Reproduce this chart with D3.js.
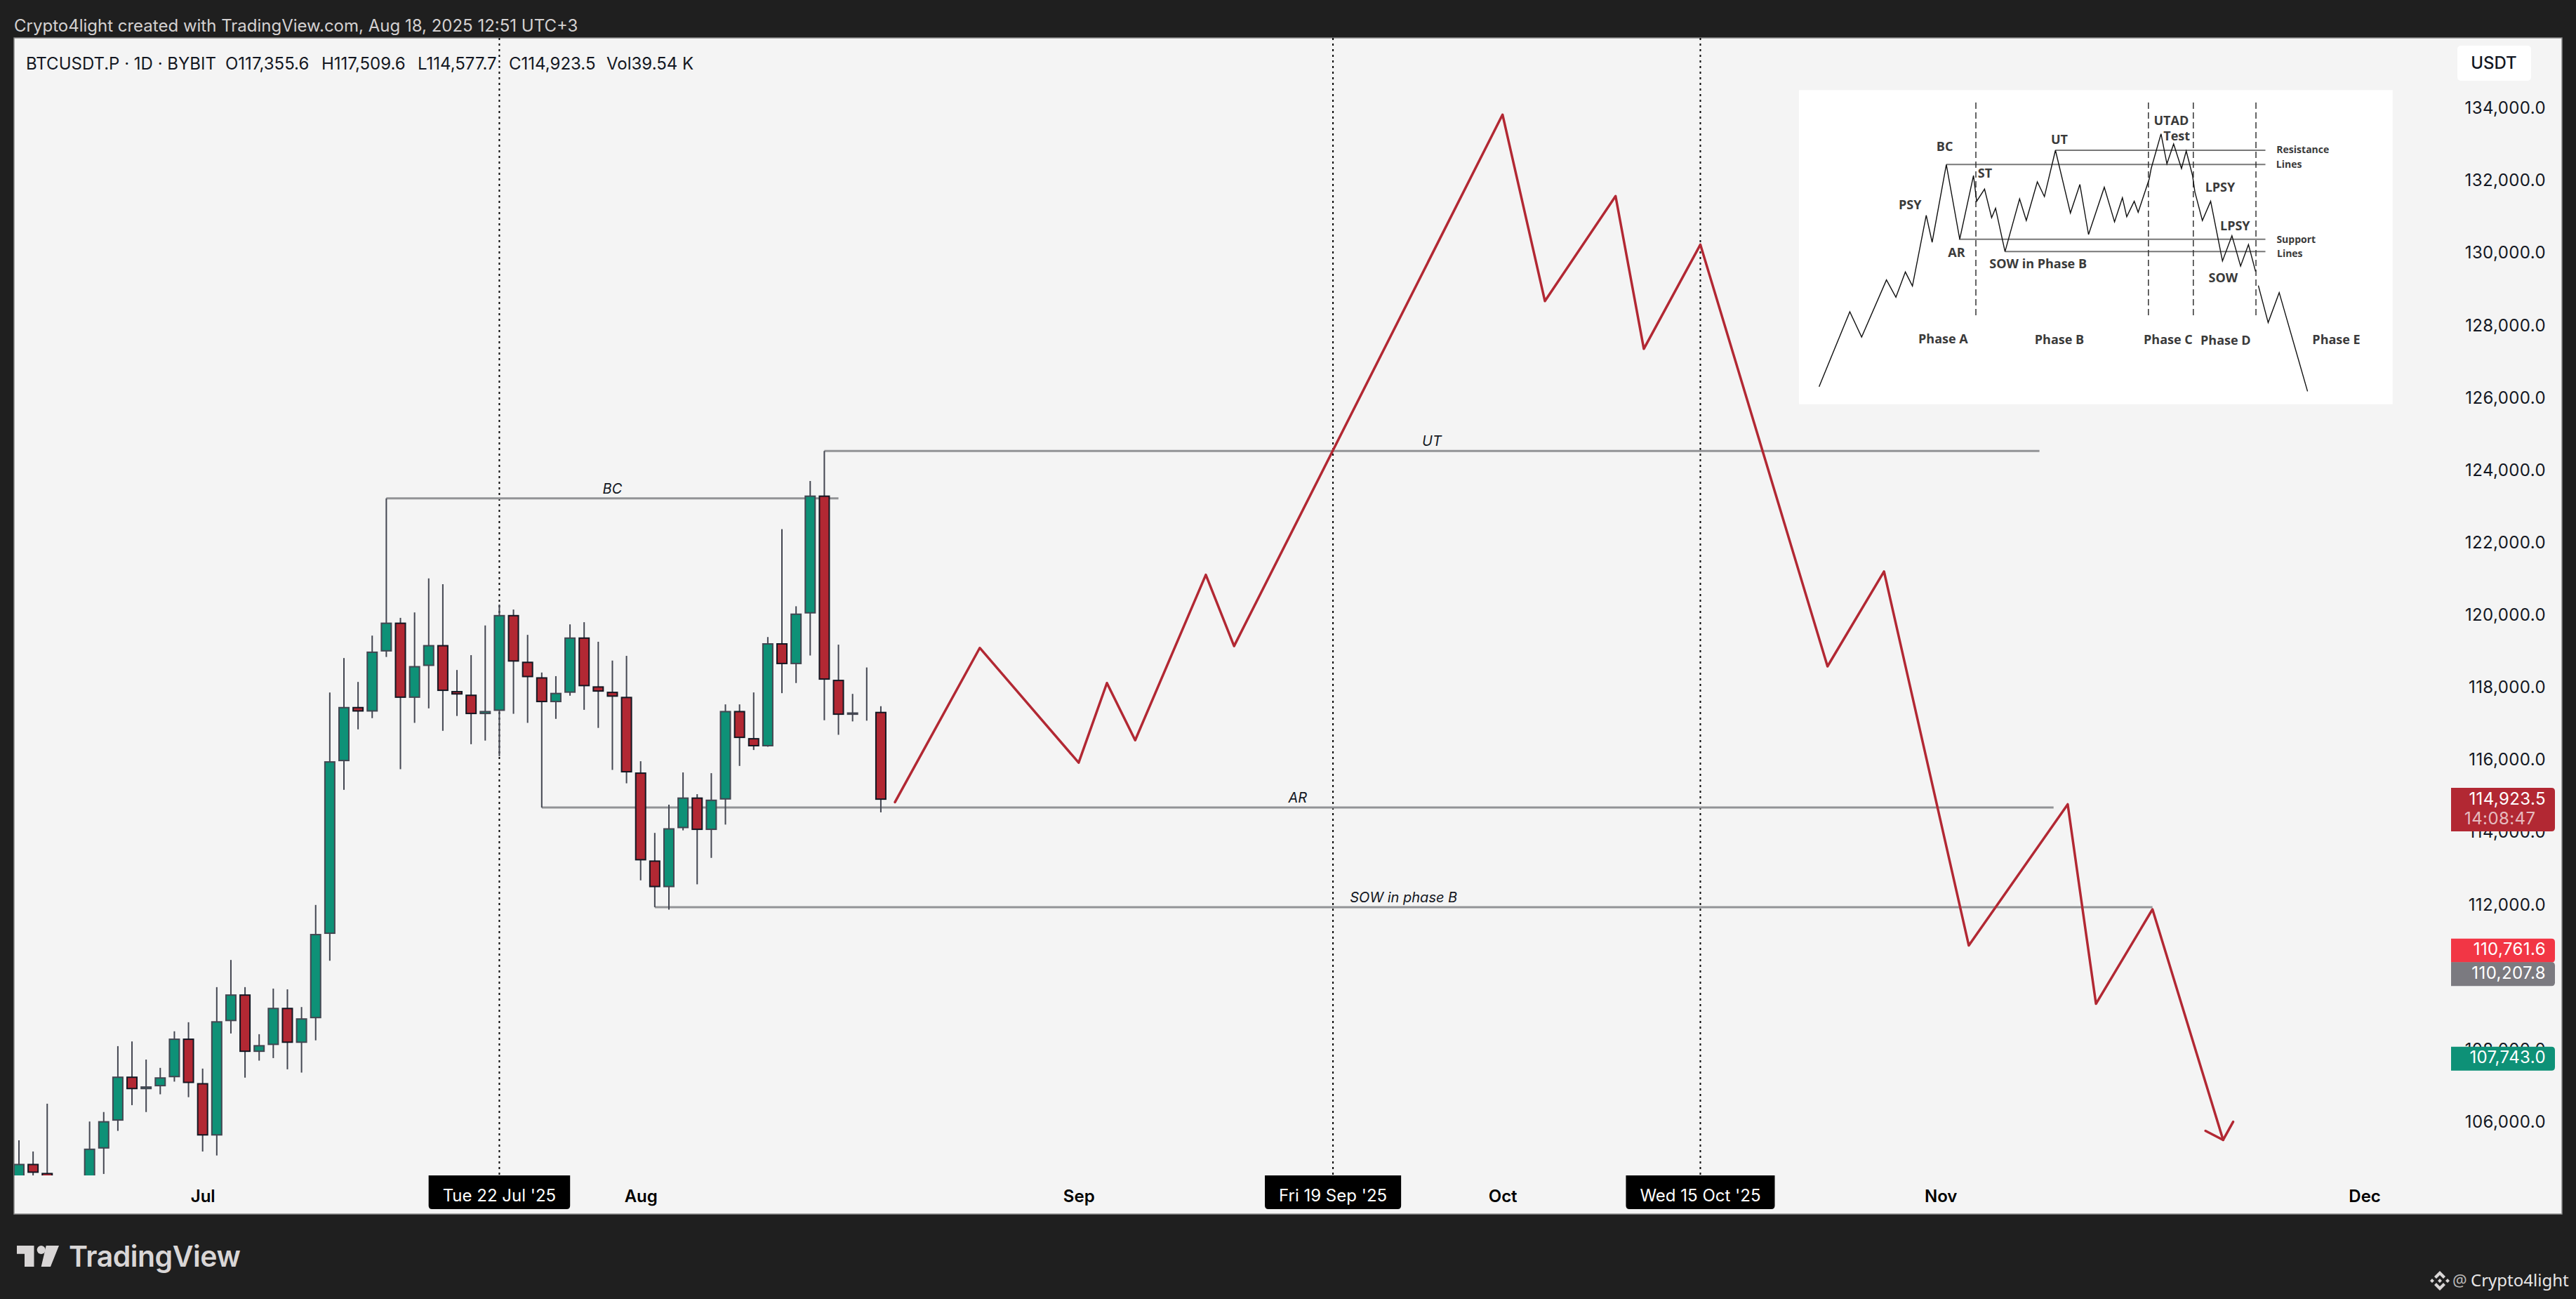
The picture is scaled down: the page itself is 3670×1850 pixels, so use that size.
<!DOCTYPE html>
<html>
<head>
<meta charset="utf-8">
<style>
  html, body { margin: 0; padding: 0; background: #1f1f1f; }
  svg { display: block; font-family: Inter, "Noto Sans", sans-serif; }
  .axis path, .axis line { display: none; }
  .price-axis text { font-size: 24px; fill: #131722; font-family: Inter, sans-serif; letter-spacing: 0.4px; }
  .time-axis text { font-size: 24px; font-weight: 600; fill: #000; font-family: Inter, sans-serif; }
  .inset-label { font-family: "Open Sans", sans-serif; font-weight: 700; fill: #3a3a3a; text-anchor: middle; }
</style>
<script src="https://cdn.jsdelivr.net/npm/d3@7"></script>
</head>
<body>
<script>
// daily candles, first one is 18 Jun 2025 (the ones around 21-22 Jun sit below the visible pane)
var firstDay = "2025-06-18";
var opens = [104300,104870,104620,103300,102100,100950,105290,106060,107280,106930,107010,107260,108330,107100,105650,108810,109550,107960,108150,109180,108210,108890,111220,115990,117490,117360,119020,119820,117740,118620,119200,117930,117830,117290,117380,120030,118740,118310,117620,117880,119410,118060,117910,117770,115680,113250,112510,114140,114990,114090,114930,117380,116630,116400,119250,118670,120070,123330,118240,117270,117350,117355.6];
var highs = [105520,105210,106530,104000,103300,106040,106300,108120,108250,107750,107520,108530,108780,107500,109750,110500,109750,108450,109710,109690,109200,112020,117890,118840,118180,119460,123250,119950,120100,121040,120880,118510,118920,119740,120320,120180,119480,118440,118340,119770,119830,119290,118770,118900,115990,114010,114790,115680,115080,115660,117560,117560,117890,119420,122400,120270,123730,124560,119210,117850,118580,117509.6];
var lows = [103800,104000,102800,100900,98300,100400,104590,105780,106490,106300,106790,107140,106710,105210,105100,108470,107250,107720,107790,107480,107390,108280,110480,115200,116870,117180,118870,115770,117050,117450,116830,117240,116460,116560,116130,117300,117050,114710,117160,117800,117410,116910,115750,115380,112700,111960,111890,114080,112590,113320,114240,115860,116300,116390,117870,118150,118910,117120,116720,117090,117110,114577.7];
var closes = [104870,104620,103300,102100,100950,105290,106050,107280,106930,107010,107260,108330,107100,105650,108810,109550,107960,108150,109180,108210,108890,111220,115990,117490,117360,119020,119820,117740,118620,119200,117930,117830,117290,117380,120030,118740,118310,117620,117880,119410,118060,117910,117770,115680,113250,112510,114140,114990,114090,114930,117380,116630,116400,119250,118670,120070,123330,118240,117270,117340,117355,114923.5];

// hand drawn projection
var projDates = ["2025-08-19","2025-08-25","2025-09-01","2025-09-03","2025-09-05","2025-09-10","2025-09-12","2025-10-01","2025-10-04","2025-10-09","2025-10-11","2025-10-15","2025-10-24","2025-10-28","2025-11-03","2025-11-10","2025-11-12","2025-11-16","2025-11-21"];
var projPrices = [114860,119120,115950,118150,116570,121140,119170,133850,128700,131600,127380,130260,118610,121230,110900,114800,109290,111900,105530];
var arrowDates = ["2025-11-19T18:00Z","2025-11-21T00:00Z","2025-11-21T17:00Z"];
var arrowPrices = [105780,105530,106030];

// horizontal levels
var levelNames = ["BC","UT","AR","SOW in phase B"];
var levelPrices = [123250,124560,114710,111960];
var levelStarts = ["2025-07-14","2025-08-14","2025-07-25","2025-08-02"];
var levelEnds = ["2025-08-15","2025-11-08","2025-11-09","2025-11-16"];

// crosshair dates
var markDates = ["2025-07-22","2025-09-19","2025-10-15"];
var markLabels = ["Tue 22 Jul '25","Fri 19 Sep '25","Wed 15 Oct '25"];

var priceTicks = [106000,108000,110000,112000,114000,116000,118000,120000,122000,124000,126000,128000,130000,132000,134000];
var monthTicks = ["2025-07-01","2025-08-01","2025-09-01","2025-10-01","2025-11-01","2025-12-01"];

// price tags on the right axis
var tagPrices = [114923.5,110761.6,110207.8,107743.0];
var tagColors = ["#b22833","#f23645","#7b7a80","#0e9177"];
var tagShift = [0,0,5,-1.5];

var legendTexts = ["BTCUSDT.P · 1D · BYBIT","O117,355.6","H117,509.6","L114,577.7","C114,923.5","Vol39.54 K"];
var legendX = [37,321,458,595,725,864];

// wyckoff schematic in the corner, values in its own picture units
var wyX = [92,170,200,263,287,311,329,364,379,415,449,484,492,512,530,540,564,601,618,646,664,692,730,754,776,816,842,862,873,892,902,930,935,960,975,992,1012,1024,1040,1046,1065,1086,1116,1140,1162,1182,1200,null,1207,1232,1260,1332];
var wyY = [1322,1002,1110,866,940,832,892,590,705,373,692,420,530,478,600,560,745,520,612,447,510,312,580,458,672,470,618,515,596,530,577,435,390,242,370,285,390,315,420,490,612,530,785,677,807,715,830,null,890,1048,920,1342];
var wyHLineY = [312,373,692,745];
var wyHLineX = [692,415,447,564];
var wyDashX = [490,928,1042,1201];
var wyLabels = ["PSY","BC","ST","AR","UT","SOW in Phase B","UTAD","Test","LPSY","LPSY","SOW","Phase A","Phase B","Phase C","Phase D","Phase E"];
var wyLabelX = [323,411,513,441,702,648,986,1000,1110,1148,1118,407,702,978,1124,1405];
var wyLabelY = [547,298,410,750,267,797,187,252,472,635,857,1118,1122,1122,1124,1122];
var wySideLabels = ["Resistance","Lines","Support","Lines"];
var wySideX = [1320,1285,1303,1287];
var wySideY = [310,372,692,753];

var parseDay = d3.utcParse("%Y-%m-%d");
var green = "#0e9177", red = "#b22833", borderDark = "#131722", borderGray = "#434651";

var width = 3670, height = 1850;
var pane = {left: 20, top: 54, right: 3650, bottom: 1674, frameBottom: 1729};

var x = d3.scaleUtc()
    .domain([parseDay("2025-06-18"), parseDay("2025-12-01")])
    .range([27, 27 + 166 * 20.13]);
var y = d3.scaleLinear()
    .domain([106000, 134000])
    .range([1599.2, 155.5]);

var svg = d3.select("body").append("svg")
    .attr("width", width)
    .attr("height", height);

svg.append("rect").attr("width", width).attr("height", height).attr("fill", "#1f1f1f");
svg.append("rect")
    .attr("x", pane.left).attr("y", pane.top)
    .attr("width", pane.right - pane.left).attr("height", pane.frameBottom - pane.top)
    .attr("fill", "#f4f4f4")
    .attr("stroke", "#8a8a8a")
    .attr("stroke-width", 1.5);

svg.append("clipPath").attr("id", "pane-clip").append("rect")
    .attr("x", pane.left).attr("y", pane.top)
    .attr("width", pane.right - pane.left).attr("height", pane.bottom - pane.top);

// header
svg.append("text")
    .attr("x", 20).attr("y", 45)
    .attr("font-size", 24).attr("fill", "#d4d1d1")
    .text("Crypto4light created with TradingView.com, Aug 18, 2025 12:51 UTC+3");

var plot = svg.append("g").attr("clip-path", "url(#pane-clip)");

// dotted crosshair lines
plot.selectAll(".mark")
    .data(markDates)
  .enter().append("line")
    .attr("class", "mark")
    .attr("x1", function(d) { return x(parseDay(d)); })
    .attr("x2", function(d) { return x(parseDay(d)); })
    .attr("y1", pane.top).attr("y2", pane.bottom)
    .attr("stroke", "#000")
    .attr("stroke-width", 2)
    .attr("stroke-dasharray", "3 5");

// levels
var levels = levelNames.map(function(name, i) {
  return {name: name, price: levelPrices[i], start: parseDay(levelStarts[i]), end: parseDay(levelEnds[i])};
});
plot.selectAll(".level")
    .data(levels)
  .enter().append("line")
    .attr("class", "level")
    .attr("x1", function(d) { return x(d.start); })
    .attr("x2", function(d) { return x(d.end); })
    .attr("y1", function(d) { return y(d.price); })
    .attr("y2", function(d) { return y(d.price); })
    .attr("stroke", "#929396")
    .attr("stroke-width", 3);
plot.selectAll(".level-label")
    .data(levels)
  .enter().append("text")
    .attr("class", "level-label")
    .attr("x", function(d) { return (x(d.start) + x(d.end)) / 2; })
    .attr("y", function(d) { return y(d.price) - 7; })
    .attr("text-anchor", "middle")
    .attr("font-size", 20)
    .attr("font-style", "italic")
    .attr("fill", "#131722")
    .text(function(d) { return d.name; });

// candles
var candles = opens.map(function(o, i) {
  return {date: d3.utcDay.offset(parseDay(firstDay), i), o: o, h: highs[i], l: lows[i], c: closes[i]};
});
var candle = plot.selectAll(".candle")
    .data(candles)
  .enter().append("g")
    .attr("class", "candle");
candle.append("line")
    .attr("x1", function(d) { return x(d.date); })
    .attr("x2", function(d) { return x(d.date); })
    .attr("y1", function(d) { return y(d.h); })
    .attr("y2", function(d) { return y(d.l); })
    .attr("stroke", borderGray)
    .attr("stroke-width", 2);
candle.append("rect")
    .attr("x", function(d) { return x(d.date) - 7; })
    .attr("width", 14)
    .attr("y", function(d) {
      var h = y(Math.min(d.o, d.c)) - y(Math.max(d.o, d.c));
      return y(Math.max(d.o, d.c)) + (h > 2 ? 1 : h / 2);
    })
    .attr("height", function(d) {
      return Math.max(0, y(Math.min(d.o, d.c)) - y(Math.max(d.o, d.c)) - 2);
    })
    .attr("fill", function(d) { return d.c >= d.o ? green : red; })
    .attr("stroke", function(d) { return d.c >= d.o ? borderGray : borderDark; })
    .attr("stroke-width", function(d) {
      return Math.max(1, Math.min(2, y(Math.min(d.o, d.c)) - y(Math.max(d.o, d.c))));
    });

// projection path
var projLine = d3.line()
    .x(function(d) { return x(d.date); })
    .y(function(d) { return y(d.price); });
var parseArrow = d3.isoParse;
function zipDates(dates, prices, parse) {
  return dates.map(function(d, i) { return {date: parse(d), price: prices[i]}; });
}
plot.append("path")
    .datum(zipDates(projDates, projPrices, parseDay))
    .attr("d", projLine)
    .attr("fill", "none").attr("stroke", red).attr("stroke-width", 3.5)
    .attr("stroke-linejoin", "round").attr("stroke-linecap", "round");
plot.append("path")
    .datum(zipDates(arrowDates, arrowPrices, parseArrow))
    .attr("d", projLine)
    .attr("fill", "none").attr("stroke", red).attr("stroke-width", 3.5)
    .attr("stroke-linejoin", "round").attr("stroke-linecap", "round");

// legend top left
svg.selectAll(".legend")
    .data(legendTexts)
  .enter().append("text")
    .attr("class", "legend")
    .attr("x", function(d, i) { return legendX[i]; })
    .attr("y", 99)
    .attr("font-size", 24)
    .attr("fill", "#131722")
    .text(function(d) { return d; });

// wyckoff inset
var wx = d3.scaleLinear().domain([0, 1568]).range([2540, 3420]);
var wy = d3.scaleLinear().domain([0, 1440]).range([110, 590]);
var inset = svg.append("g");
inset.append("rect")
    .attr("x", wx(41)).attr("y", wy(55))
    .attr("width", wx(1548) - wx(41)).attr("height", wy(1397) - wy(55))
    .attr("fill", "#fff");
inset.selectAll(".wy-h")
    .data(wyHLineY)
  .enter().append("line")
    .attr("x1", function(d, i) { return wx(wyHLineX[i]); })
    .attr("x2", wx(1225))
    .attr("y1", function(d) { return wy(d); })
    .attr("y2", function(d) { return wy(d); })
    .attr("stroke", "#777").attr("stroke-width", 2);
inset.selectAll(".wy-dash")
    .data(wyDashX)
  .enter().append("line")
    .attr("x1", function(d) { return wx(d); })
    .attr("x2", function(d) { return wx(d); })
    .attr("y1", wy(108)).attr("y2", wy(1025))
    .attr("stroke", "#333").attr("stroke-width", 1.5)
    .attr("stroke-dasharray", "9 5");
inset.append("path")
    .datum(wyX.map(function(d, i) { return [d, wyY[i]]; }))
    .attr("d", d3.line()
        .defined(function(d) { return d[0] !== null; })
        .x(function(d) { return wx(d[0]); })
        .y(function(d) { return wy(d[1]); }))
    .attr("fill", "none").attr("stroke", "#111").attr("stroke-width", 1.4);
inset.selectAll(".wy-label")
    .data(wyLabels)
  .enter().append("text")
    .attr("class", "inset-label")
    .attr("x", function(d, i) { return wx(wyLabelX[i]); })
    .attr("y", function(d, i) { return wy(wyLabelY[i]) + 6; })
    .attr("font-size", 18)
    .text(function(d) { return d; });
inset.selectAll(".wy-side")
    .data(wySideLabels)
  .enter().append("text")
    .attr("class", "inset-label")
    .attr("x", function(d, i) { return wx(wySideX[i]); })
    .attr("y", function(d, i) { return wy(wySideY[i]) + 5; })
    .attr("font-size", 14)
    .text(function(d) { return d; });

// axes
svg.append("g")
    .attr("class", "axis price-axis")
    .attr("transform", "translate(3627,-1.5)")
    .call(d3.axisRight(y).tickValues(priceTicks).tickSize(0).tickPadding(0).tickFormat(d3.format(",.1f")))
    .selectAll("text").attr("text-anchor", "end");

svg.append("g")
    .attr("class", "axis time-axis")
    .attr("transform", "translate(0,1694.7)")
    .call(d3.axisBottom(x).tickValues(monthTicks.map(parseDay)).tickSize(0).tickPadding(0).tickFormat(d3.utcFormat("%b")));

// USDT button
svg.append("rect")
    .attr("x", 3501).attr("y", 65).attr("width", 105).attr("height", 50).attr("rx", 5)
    .attr("fill", "#fff");
svg.append("text")
    .attr("x", 3553).attr("y", 98)
    .attr("text-anchor", "middle").attr("font-size", 24).attr("font-weight", 500).attr("fill", "#131722")
    .text("USDT");

// rounded only on the right or only on the bottom
function tagPath(x0, y0, w, h, r) {
  return "M" + x0 + "," + y0 + "H" + (x0 + w - r) + "Q" + (x0 + w) + "," + y0 + " " + (x0 + w) + "," + (y0 + r) +
      "V" + (y0 + h - r) + "Q" + (x0 + w) + "," + (y0 + h) + " " + (x0 + w - r) + "," + (y0 + h) + "H" + x0 + "Z";
}
function tipPath(x0, y0, w, h, r) {
  return "M" + x0 + "," + y0 + "H" + (x0 + w) + "V" + (y0 + h - r) + "Q" + (x0 + w) + "," + (y0 + h) + " " + (x0 + w - r) + "," + (y0 + h) +
      "H" + (x0 + r) + "Q" + x0 + "," + (y0 + h) + " " + x0 + "," + (y0 + h - r) + "Z";
}

// price tags
tagPrices.forEach(function(p, i) {
  var cy = y(p) + tagShift[i];
  var top = cy - 17;
  var tagH = i === 0 ? 62 : 34;
  svg.append("path").attr("d", tagPath(3492, top, 148, tagH, 5)).attr("fill", tagColors[i]);
  svg.append("text")
      .attr("x", 3627).attr("y", top + 23.5)
      .attr("text-anchor", "end").attr("font-size", 24).attr("fill", "#fff").attr("letter-spacing", 0.4)
      .text(d3.format(",.1f")(p));
  if (i === 0) {
    svg.append("text")
        .attr("x", 3511).attr("y", top + 52)
        .attr("font-size", 24).attr("fill", "#fff").attr("fill-opacity", 0.7).attr("letter-spacing", 0.4)
        .text("14:08:47");
  }
});

// date tooltips under the crosshair lines
markDates.forEach(function(d, i) {
  var cx = x(parseDay(d));
  var tip = svg.append("g");
  var bg = tip.append("path").attr("fill", "#000");
  var label = tip.append("text")
      .attr("x", cx).attr("y", 1711)
      .attr("text-anchor", "middle").attr("font-size", 24).attr("fill", "#fff")
      .text(markLabels[i]);
  var w = label.node().getComputedTextLength() + 40;
  bg.attr("d", tipPath(cx - w / 2, 1674, w, 48, 5));
});

// footer
var logo = svg.append("g").attr("fill", "#d9d6d6");
logo.append("path").attr("d", "M24,1774H48.5V1804H35V1785.7H24Z");
logo.append("circle").attr("cx", 58.7).attr("cy", 1780).attr("r", 6);
logo.append("path").attr("d", "M65.7,1774H84L72,1804H58.7Z");
svg.append("text")
    .attr("x", 98).attr("y", 1804)
    .attr("font-size", 41).attr("font-weight", 600).attr("letter-spacing", -0.5).attr("fill", "#d9d6d6")
    .text("TradingView");

svg.append("path")
    .attr("transform", "translate(3476,1824)")
    .attr("fill", "#d9d6d6")
    .attr("d", "M0,-14L8,-6L5,-3L0,-8L-5,-3L-8,-6ZM0,14L8,6L5,3L0,8L-5,3L-8,6ZM0,-3L3,0L0,3L-3,0ZM-14,0L-11,-3L-8,0L-11,3ZM14,0L11,-3L8,0L11,3Z");
svg.append("text")
    .attr("x", 3494).attr("y", 1832)
    .attr("font-size", 23).attr("fill", "#b9b7b7").attr("font-family", "'Noto Sans'")
    .text("@");
svg.append("text")
    .attr("x", 3520).attr("y", 1832)
    .attr("font-size", 24).attr("fill", "#e8e6e6").attr("font-family", "'Noto Sans'")
    .text("Crypto4light");
</script>
</body>
</html>
